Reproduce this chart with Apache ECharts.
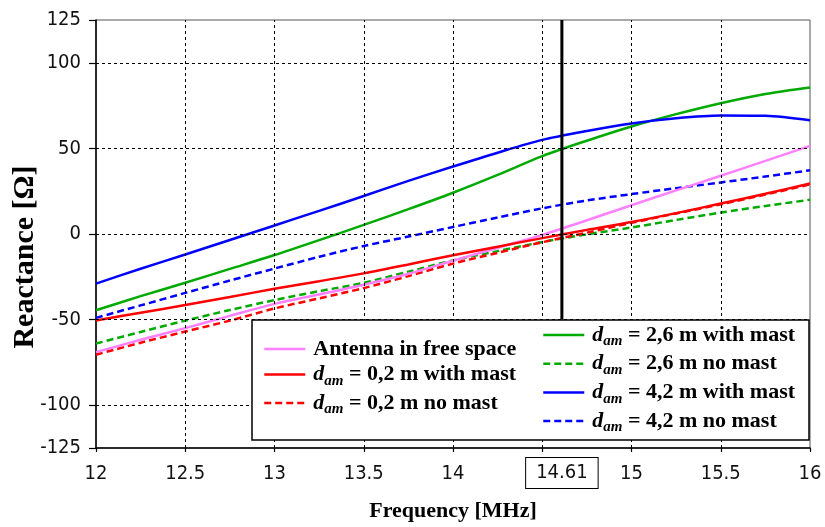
<!DOCTYPE html>
<html>
<head>
<meta charset="utf-8">
<script src="https://cdn.jsdelivr.net/npm/echarts@6/dist/echarts.min.js"></script>
<style>html,body{margin:0;padding:0;background:#fff;}#c{width:825px;height:527px;}</style>
</head>
<body>
<div id="c"></div>
<script>
// ---- data ----
const freq = [12, 12.25, 12.5, 12.75, 13, 13.25, 13.5, 13.75, 14, 14.25, 14.5, 14.75, 15, 15.25, 15.5, 15.75, 16];
const freeSpace   = [-69, -61.8, -55, -47.8, -40.8, -35.3, -29.6, -23.2, -15.6, -8, -0.5, 8, 16.8, 25.5, 34, 42.7, 51.5];
const red02Mast   = [-50.5, -46, -41.5, -36.8, -32, -27.6, -23, -17.8, -12.4, -7.4, -2.4, 2.4, 7, 12.2, 17.8, 23.5, 29.5];
const red02NoMast = [-70.5, -63.5, -57, -50.6, -43.5, -37.6, -31.6, -24.6, -17.3, -11, -4.8, 0.8, 6.5, 12, 17.3, 23, 29];
const grn26Mast   = [-44.5, -36.3, -28.5, -20.4, -12.3, -3.6, 5.3, 14.5, 24.1, 34.5, 45.5, 54.5, 62.8, 70, 76.4, 81.8, 85.6];
const grn26NoMast = [-64, -57.2, -50.6, -44.4, -38.6, -33.4, -28.5, -22, -15.4, -10, -4.7, -0.2, 3.8, 8.2, 12.5, 16.4, 20];
const blu42Mast   = [-29, -20.3, -12, -3.5, 5, 13.5, 22.2, 31, 39.4, 47.5, 55, 60.2, 64.6, 67.6, 69.2, 69, 66.4];
const blu42NoMast = [-49, -41.7, -34.4, -27.2, -20.2, -13.3, -7, -1.5, 4.1, 9.6, 15, 19.6, 23.3, 26.8, 30.1, 33.6, 37.2];
const seriesNames = ['Antenna in free space', 'dam = 0,2 m with mast', 'dam = 0,2 m no mast',
                     'dam = 2,6 m with mast', 'dam = 2,6 m no mast', 'dam = 4,2 m with mast', 'dam = 4,2 m no mast'];
const markedFreq = 14.61;
const markerYRange = [-50, 125];
const xTickLabels = [12, 12.5, 13, 13.5, 14, 14.61, 15, 15.5, 16];
const yTickLabels = [-125, -100, -50, 0, 50, 100, 125];
const xGridValues = [12.5, 13, 13.5, 14, 14.5, 15, 15.5];
const yGridValues = [-100, -50, 0, 50, 100];

const pairs = v => freq.map((f, i) => [f, v[i]]);
const serif = 'Liberation Serif, Times New Roman, serif';
const tickFont = 'DejaVu Sans Condensed, DejaVu Sans, sans-serif';

function mk(name, values, color, dashed, z) {
  return {
    name: name, type: 'line', data: pairs(values), symbol: 'none', smooth: 0.3, z: z,
    lineStyle: { color: color, width: 2.5, type: dashed ? [7, 4] : 'solid' },
    itemStyle: { color: color }
  };
}

const rich = {
  t: { fontFamily: serif, fontWeight: 'bold', fontSize: 22, lineHeight: 28, color: '#000' },
  i: { fontFamily: serif, fontWeight: 'bold', fontStyle: 'italic', fontSize: 22, lineHeight: 28, color: '#000' },
  s: { fontFamily: serif, fontWeight: 'bold', fontStyle: 'italic', fontSize: 15, lineHeight: 10, verticalAlign: 'bottom', color: '#000' }
};
function legendFmt(name) {
  if (name.indexOf('dam') === 0) {
    return '{i|d}{s|am}{t| ' + name.slice(3).trim() + '}';
  }
  return '{t|' + name + '}';
}
const legendBase = {
  orient: 'vertical', itemWidth: 41, itemHeight: 14, z: 120,
  formatter: legendFmt, selectedMode: false,
  itemStyle: { opacity: 0 },
  lineStyle: { width: 2.5 },
  textStyle: { rich: rich, padding: [0, 0, 0, 3] }
};

const chart = echarts.init(document.getElementById('c'), null, { renderer: 'canvas' });
chart.setOption({
  animation: false,
  backgroundColor: '#fff',
  grid: { left: 96, right: 15, top: 20, bottom: 78, show: true, borderColor: '#555', borderWidth: 1 },
  xAxis: {
    type: 'value', min: 12, max: 16, interval: 0.5,
    name: 'Frequency [MHz]', nameLocation: 'middle', nameGap: 52,
    nameTextStyle: { fontFamily: serif, fontWeight: 'bold', fontSize: 22, color: '#000' },
    axisLine: { onZero: false, lineStyle: { color: '#000', width: 1.5 } },
    axisTick: { length: 4, lineStyle: { color: '#000', width: 1.2 } },
    axisLabel: {
      customValues: xTickLabels, margin: 10, fontFamily: tickFont, fontSize: 20, color: '#111',
      formatter: v => (Math.abs(v - markedFreq) < 1e-6 ? '{box|' + markedFreq + '}' : '{n|' + v + '}'),
      rich: {
        n: { fontFamily: tickFont, fontSize: 20, color: '#111', padding: [6, 0, 4, 0] },
        box: { fontFamily: tickFont, fontSize: 20, color: '#111', borderColor: '#000', borderWidth: 1,
               padding: [5, 10, 5, 10], backgroundColor: '#fff' }
      }
    },
    splitLine: { show: false }
  },
  yAxis: {
    type: 'value', min: -125, max: 125, interval: 25,
    axisLine: { show: true, onZero: false, lineStyle: { color: '#000', width: 1.5 } },
    axisTick: { show: true, customValues: yTickLabels, length: 7, lineStyle: { color: '#000', width: 1.2 } },
    axisLabel: { customValues: yTickLabels, margin: 15, fontFamily: tickFont, fontSize: 20, color: '#111' },
    splitLine: { show: false }
  },
  legend: [
    Object.assign({}, legendBase, { left: 258, top: 333, itemGap: 3.5, data: seriesNames.slice(0, 3) }),
    Object.assign({}, legendBase, { left: 537, top: 319, itemGap: 3.7, data: seriesNames.slice(3) })
  ],
  graphic: [
    { type: 'rect', z: 100, shape: { x: 252, y: 320, width: 557, height: 120 },
      style: { fill: '#ffffff', stroke: '#000', lineWidth: 1.5 } },
    { type: 'text', z: 100, x: 25, y: 257, rotation: Math.PI / 2,
      style: { text: 'Reactance [Ω]', fontFamily: serif, fontWeight: 'bold', fontSize: 30, fill: '#000',
               align: 'center', verticalAlign: 'middle' } }
  ],
  series: [
    { type: 'line', data: [], z: 1, silent: true,
      markLine: { silent: true, symbol: 'none', label: { show: false },
        lineStyle: { color: '#000', width: 1, type: [3, 3] },
        data: xGridValues.map(v => ({ xAxis: v })).concat(yGridValues.map(v => ({ yAxis: v }))) } },
    mk(seriesNames[6], blu42NoMast, '#0000ff', true, 2),
    mk(seriesNames[4], grn26NoMast, '#00aa00', true, 2),
    mk(seriesNames[2], red02NoMast, '#ff0000', true, 2),
    mk(seriesNames[0], freeSpace, '#ff80ff', false, 3),
    mk(seriesNames[1], red02Mast, '#ff0000', false, 3),
    mk(seriesNames[3], grn26Mast, '#00aa00', false, 3),
    mk(seriesNames[5], blu42Mast, '#0000ff', false, 3),
    { type: 'line', name: 'marker', z: 4, silent: true, symbol: 'none',
      data: markerYRange.map(y => [markedFreq, y]),
      lineStyle: { color: '#000', width: 3, type: 'solid' } }
  ]
});
</script>
</body>
</html>
